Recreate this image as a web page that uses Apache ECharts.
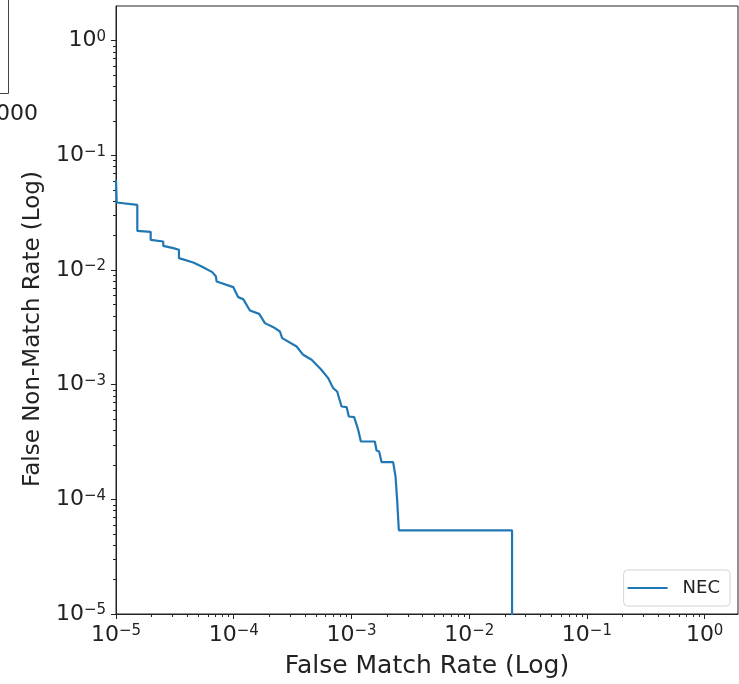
<!DOCTYPE html>
<html><head><meta charset="utf-8">
<script src="https://cdn.jsdelivr.net/npm/echarts@6/dist/echarts.min.js"></script>
<style>html,body{margin:0;padding:0;background:#fff}#c{width:739px;height:684px}</style>
</head><body><div id="c"></div>
<script>
// ---- data (DET curve, log-log) ----
const seriesName = 'NEC';
const fmr = [1.0e-5, 1.014e-5, 1.517e-5, 1.517e-5, 1.97e-5, 1.97e-5, 2.52e-5, 2.52e-5, 3.064e-5, 3.425e-5,
  3.425e-5, 4.53e-5, 5.34e-5, 6.57e-5, 7.06e-5, 7.16e-5, 9.90e-5, 1.092e-4, 1.204e-4, 1.372e-4,
  1.646e-4, 1.84e-4, 2.237e-4, 2.467e-4, 2.58e-4, 3.42e-4, 3.89e-4, 4.585e-4, 5.50e-4, 6.34e-4,
  6.99e-4, 7.56e-4, 8.24e-4, 9.09e-4, 9.50e-4, 1.054e-3, 1.14e-3, 1.202e-3, 1.58e-3, 1.633e-3,
  1.718e-3, 1.80e-3, 2.26e-3, 2.368e-3, 2.443e-3, 2.526e-3, 0.02313, 0.02313];
const fnmr = [0.061, 0.0387, 0.0369, 0.0219, 0.0215, 0.0183, 0.01769, 0.01622, 0.01549, 0.01497,
  0.01267, 0.0116, 0.01071, 0.00957, 0.00876, 0.00792, 0.00708, 0.00579, 0.00556, 0.00443,
  0.00414, 0.003437, 0.00311, 0.002904, 0.002543, 0.00215, 0.001819, 0.001645, 0.00136, 0.00114,
  0.000932, 0.000871, 0.000644, 0.000637, 0.000527, 0.000521, 0.000404, 0.000319, 0.000319, 0.000266,
  0.000261, 0.000211, 0.000211, 0.000158, 9.9e-5, 5.37e-5, 5.37e-5, 1.0e-6];
const tickExponents = [-5, -4, -3, -2, -1, 0];
const tickSup = ['\u22125', '\u22124', '\u22123', '\u22122', '\u22121', '0'];
const xRange = [1e-5, 1.92];
const yRange = [1e-5, 2.0];
const xName = 'False Match Rate (Log)';
const yName = 'False Non-Match Rate (Log)';

const FONT = 'DejaVu Sans';
const AXC = '#222';

function labelFmt(v) {
  const l = Math.log10(v);
  const e = Math.round(l);
  if (Math.abs(l - e) > 1e-6) return '';
  const i = tickExponents.indexOf(e);
  if (i < 0) return '';
  return '{b|10}{s|' + tickSup[i] + '}';
}
const rich = {
  b: { fontSize: 22, fontFamily: FONT, color: AXC },
  s: { fontSize: 15, fontFamily: FONT, color: AXC, verticalAlign: 'top' }
};

// minor tick positions (2..9 x 10^n) inside the axis ranges
function minorTicks(range) {
  const out = [];
  for (let d = -6; d <= 1; d++) {
    for (let k = 2; k <= 9; k++) {
      const v = k * Math.pow(10, d);
      if (v > range[0] && v < range[1]) out.push(v);
    }
  }
  return out;
}
const xMinor = minorTicks(xRange).map(v => [v, yRange[0]]);
const yMinor = minorTicks(yRange).map(v => [xRange[0], v]);

const lineData = fmr.map((x, i) => [x, fnmr[i]]);

const chart = echarts.init(document.getElementById('c'));
chart.setOption({
  animation: false,
  backgroundColor: '#fff',
  grid: { left: 116, right: 1, top: 6, bottom: 70, show: true, borderColor: AXC, borderWidth: 1, backgroundColor: 'transparent', containLabel: false, outerBoundsMode: 'none' },
  legend: {
    data: [seriesName], right: 9, bottom: 78, orient: 'vertical',
    backgroundColor: '#fff', borderColor: '#d5d5d5', borderWidth: 1, borderRadius: 4,
    padding: [9, 10, 9, 4], itemWidth: 40, itemHeight: 2, icon: 'rect',
    textStyle: { fontSize: 18, fontFamily: FONT, color: AXC, padding: [0, 0, 0, 10] }
  },
  xAxis: {
    type: 'log', logBase: 10, min: xRange[0], max: xRange[1],
    name: xName, nameLocation: 'middle', nameGap: 40,
    nameTextStyle: { fontSize: 25, fontFamily: FONT, color: AXC },
    axisLine: { show: true, lineStyle: { color: AXC, width: 1 } },
    axisTick: { show: true, inside: false, length: 5, lineStyle: { color: AXC, width: 1 } },
    axisLabel: { formatter: labelFmt, rich: rich, margin: 10, showMaxLabel: false },
    splitLine: { show: false }, minorTick: { show: false }
  },
  yAxis: {
    type: 'log', logBase: 10, min: yRange[0], max: yRange[1],
    name: yName, nameLocation: 'middle', nameGap: 71, nameRotate: 90,
    nameTextStyle: { fontSize: 23, fontFamily: FONT, color: AXC, padding: [0, 38, 0, 0] },
    axisLine: { show: true, lineStyle: { color: AXC, width: 1 } },
    axisTick: { show: true, inside: false, length: 5, lineStyle: { color: AXC, width: 1 } },
    axisLabel: { formatter: labelFmt, rich: rich, margin: 10, showMaxLabel: false },
    splitLine: { show: false }, minorTick: { show: false }
  },
  graphic: [
    { type: 'polyline', shape: { points: [[8.5, 0], [8.5, 93.5], [0, 93.5]] }, style: { stroke: '#444', lineWidth: 1, fill: null } },
    { type: 'text', left: -4, top: 103, style: { text: '000', fontSize: 22, fontFamily: FONT, fill: AXC } }
  ],
  series: [
    {
      name: seriesName, type: 'line', data: lineData, showSymbol: false, symbol: 'none',
      lineStyle: { color: '#1f77b4', width: 2.2 }, itemStyle: { color: '#1f77b4' }, clip: true, z: 3
    },
    {
      type: 'custom', data: xMinor, silent: true, clip: false,
      renderItem: function (params, api) {
        const p = api.coord([api.value(0), api.value(1)]);
        const x = Math.round(p[0]) + 0.5;
        return { type: 'line', shape: { x1: x, y1: p[1], x2: x, y2: p[1] + 3 }, style: { stroke: AXC, lineWidth: 1 } };
      }
    },
    {
      type: 'custom', data: yMinor, silent: true, clip: false,
      renderItem: function (params, api) {
        const p = api.coord([api.value(0), api.value(1)]);
        const y = Math.round(p[1]) + 0.5;
        return { type: 'line', shape: { x1: p[0] - 3, y1: y, x2: p[0], y2: y }, style: { stroke: AXC, lineWidth: 1 } };
      }
    }
  ]
});
</script>
</body></html>
